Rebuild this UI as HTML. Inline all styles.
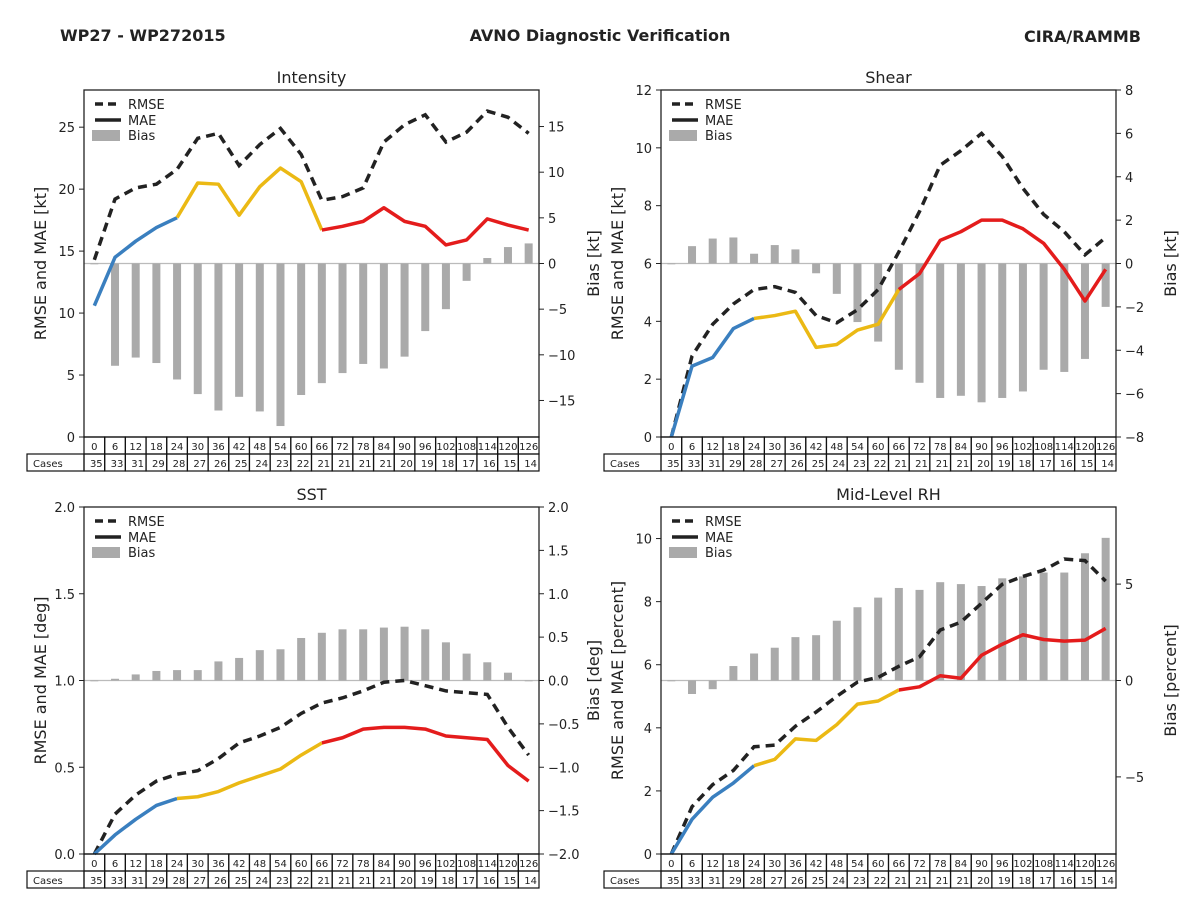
<!DOCTYPE html>
<html><head><meta charset="utf-8"><style>
body{margin:0;background:#fff;width:1200px;height:900px;overflow:hidden;font-family:"DejaVu Sans","Liberation Sans",sans-serif;}
svg text{font-family:"DejaVu Sans","Liberation Sans",sans-serif;}
</style></head><body>
<svg id="chart" width="1200" height="900" xmlns="http://www.w3.org/2000/svg">
<text x="60" y="41" font-size="16" font-weight="bold" fill="#222">WP27 - WP272015</text>
<text x="600" y="41" font-size="16" font-weight="bold" fill="#222" text-anchor="middle">AVNO Diagnostic Verification</text>
<text x="1141" y="42" font-size="16" font-weight="bold" fill="#222" text-anchor="end">CIRA/RAMMB</text>
</svg>
<script>
const hours=[0,6,12,18,24,30,36,42,48,54,60,66,72,78,84,90,96,102,108,114,120,126];
const cases=[35,33,31,29,28,27,26,25,24,23,22,21,21,21,21,20,19,18,17,16,15,14];
const intRmse=[14.3,19.2,20.1,20.4,21.6,24.1,24.5,21.9,23.6,24.9,22.8,19.1,19.4,20.1,23.8,25.2,26.0,23.8,24.6,26.3,25.8,24.5];
const intMae=[10.6,14.5,15.8,16.9,17.7,20.5,20.4,17.9,20.2,21.7,20.6,16.7,17.0,17.4,18.5,17.4,17.0,15.5,15.9,17.6,17.1,16.7];
const intBias=[0,-11.2,-10.3,-10.9,-12.7,-14.3,-16.1,-14.6,-16.2,-17.8,-14.4,-13.1,-12.0,-11.0,-11.5,-10.2,-7.4,-5.0,-1.9,0.6,1.8,2.2];
const shrRmse=[0,2.8,3.9,4.6,5.1,5.2,5.0,4.2,3.95,4.4,5.1,6.4,7.8,9.4,9.9,10.5,9.7,8.6,7.7,7.1,6.3,6.9];
const shrMae=[0,2.45,2.75,3.75,4.1,4.2,4.35,3.1,3.2,3.7,3.9,5.1,5.65,6.8,7.1,7.5,7.5,7.2,6.7,5.8,4.7,5.8];
const shrBias=[0,0.8,1.15,1.2,0.45,0.85,0.65,-0.45,-1.4,-2.7,-3.6,-4.9,-5.5,-6.2,-6.1,-6.4,-6.2,-5.9,-4.9,-5.0,-4.4,-2.0];
const sstRmse=[0,0.23,0.34,0.42,0.46,0.48,0.55,0.64,0.68,0.73,0.81,0.87,0.90,0.94,0.99,1.0,0.97,0.94,0.93,0.92,0.73,0.57];
const sstMae=[0,0.11,0.2,0.28,0.32,0.33,0.36,0.41,0.45,0.49,0.57,0.64,0.67,0.72,0.73,0.73,0.72,0.68,0.67,0.66,0.51,0.42];
const sstBias=[0,0.02,0.07,0.11,0.12,0.12,0.22,0.26,0.35,0.36,0.49,0.55,0.59,0.59,0.61,0.62,0.59,0.44,0.31,0.21,0.09,0.0];
const rhRmse=[0,1.5,2.2,2.65,3.4,3.45,4.05,4.5,5.0,5.45,5.6,5.95,6.25,7.1,7.35,7.95,8.55,8.8,9.0,9.35,9.3,8.65];
const rhMae=[0,1.1,1.8,2.25,2.8,3.0,3.65,3.6,4.1,4.75,4.85,5.2,5.3,5.65,5.57,6.3,6.65,6.95,6.8,6.75,6.78,7.15];
const rhBias=[0,-0.7,-0.45,0.75,1.4,1.7,2.25,2.35,3.1,3.8,4.3,4.8,4.7,5.1,5.0,4.9,5.3,5.4,5.6,5.6,6.6,7.4];
const intLeftTicks=[0,5,10,15,20,25], intRightTicks=[-15,-10,-5,0,5,10,15];
const shrLeftTicks=[0,2,4,6,8,10,12], shrRightTicks=[-8,-6,-4,-2,0,2,4,6,8];
const sstLeftTicks=[0,0.5,1,1.5,2], sstRightTicks=[-2,-1.5,-1,-0.5,0,0.5,1,1.5,2];
const rhLeftTicks=[0,2,4,6,8,10], rhRightTicks=[-5,0,5];

const NS="http://www.w3.org/2000/svg";
const svg=document.getElementById('chart');
function mk(tag,attrs,parent,txt){const e=document.createElementNS(NS,tag);for(const k in attrs)e.setAttribute(k,attrs[k]);if(txt!==undefined)e.textContent=txt;(parent||svg).appendChild(e);return e;}

function panel(o){
  const g=mk('g',{});
  
  
  const L=o.x0,R=o.x0+455,T=o.y0,B=o.y0+347;
  const cw=(R-L)/hours.length;
  const xs=i=>L+(i+0.5)*cw;
  const yl=v=>B-(v-o.lmin)/(o.lmax-o.lmin)*(B-T);
  const yr=v=>B-(v-o.rmin)/(o.rmax-o.rmin)*(B-T);
  // zero line
  const z=mk('line',{x1:L,x2:R,y1:yr(0),y2:yr(0),stroke:'#bbb','stroke-width':1.2},g);
  
  
  // bars
  o.bias.forEach((v,i)=>{
    const y0=yr(0),y1=yr(v);
    const b=mk('rect',{x:xs(i)-4,y:Math.min(y0,y1),width:8,height:Math.max(Math.abs(y1-y0),0.8),fill:'#aaaaaa'},g);
    
    
  });
  // rmse
  const rp=o.rmse.map((v,i)=>xs(i)+','+yl(v)).join(' ');
  const rl=mk('polyline',{points:rp,fill:'none',stroke:'#222','stroke-width':3.5,'stroke-dasharray':'9,6'},g);
  
  
  // mae segments
  const segs=[[0,4,'#3a7fbf'],[4,11,'#ebb914'],[11,21,'#e41c1c']];
  segs.forEach(s=>{
    const pts=[];for(let i=s[0];i<=s[1];i++)pts.push(xs(i)+','+yl(o.mae[i]));
    const m=mk('polyline',{points:pts.join(' '),fill:'none',stroke:s[2],'stroke-width':3.5,'stroke-linejoin':'round'},g);
    
    
  });
  // frame
  const f=mk('rect',{x:L,y:T,width:R-L,height:B-T,fill:'none',stroke:'#222','stroke-width':1.3},g);
  
  
  o.lt.forEach(v=>{
    mk('line',{x1:L-5,x2:L,y1:yl(v),y2:yl(v),stroke:'#222'},g);
    const t=mk('text',{x:L-9,y:yl(v)+5,'font-size':13,'text-anchor':'end',fill:'#222'},g,o.lfmt(v));
    
    
  });
  o.rt.forEach(v=>{
    mk('line',{x1:R,x2:R+5,y1:yr(v),y2:yr(v),stroke:'#222'},g);
    const t=mk('text',{x:R+9,y:yr(v)+5,'font-size':13,fill:'#222'},g,o.rfmt(v).replace('-','\u2212'));
    
    
  });
  const ti=mk('text',{x:(L+R)/2,y:T-7,'font-size':16,'text-anchor':'middle',fill:'#222'},g,o.title);
  
  
  const ly=mk('text',{x:0,y:0,'font-size':16,'text-anchor':'middle',fill:'#222',transform:`translate(${L-38},${(T+B)/2}) rotate(-90)`},g,o.ylab);
  
  
  const ry=mk('text',{x:0,y:0,'font-size':16,'text-anchor':'middle',fill:'#222',transform:`translate(${R+60},${(T+B)/2}) rotate(-90)`},g,o.rlab);
  
  
  // legend
  const lg=mk('g',{},g);
  
  
  mk('line',{x1:L+11,x2:L+37,y1:T+14,y2:T+14,stroke:'#222','stroke-width':3.5,'stroke-dasharray':'8,5'},lg);
  mk('line',{x1:L+11,x2:L+37,y1:T+30,y2:T+30,stroke:'#222','stroke-width':3.5},lg);
  mk('rect',{x:L+8,y:T+40,width:28,height:11,fill:'#aaa'},lg);
  [['RMSE',19],['MAE',35],['Bias',50]].forEach(a=>mk('text',{x:L+44,y:T+a[1],'font-size':13,fill:'#222'},lg,a[0]));
  // table
  const tb=mk('g',{},g);
  
  
  const c=mk('rect',{x:L-57,y:B+17,width:57,height:17,fill:'none',stroke:'#111','stroke-width':1.2},tb);
  mk('text',{x:L-51,y:B+30,'font-size':10,fill:'#222'},tb,'Cases');
  hours.forEach((h,i)=>{
    const x=L+i*cw;
    mk('rect',{x:x,y:B,width:cw,height:17,fill:'none',stroke:'#111','stroke-width':1.2},tb);
    mk('rect',{x:x,y:B+17,width:cw,height:17,fill:'none',stroke:'#111','stroke-width':1.2},tb);
    mk('text',{x:x+cw/2,y:B+13,'font-size':10,'text-anchor':'middle',fill:'#222'},tb,String(h));
    mk('text',{x:x+cw-2,y:B+30,'font-size':10,'text-anchor':'end',fill:'#222'},tb,String(cases[i]));
  });
}
const i0=v=>String(v), f1=v=>v.toFixed(1);
panel({name:'intensity',title:'Intensity',x0:84,y0:90,lmin:0,lmax:28,rmin:-19,rmax:19,rmse:intRmse,mae:intMae,bias:intBias,lt:intLeftTicks,rt:intRightTicks,lfmt:i0,rfmt:i0,ylab:'RMSE and MAE [kt]',rlab:'Bias [kt]'});
panel({name:'shear',title:'Shear',x0:661,y0:90,lmin:0,lmax:12,rmin:-8,rmax:8,rmse:shrRmse,mae:shrMae,bias:shrBias,lt:shrLeftTicks,rt:shrRightTicks,lfmt:i0,rfmt:i0,ylab:'RMSE and MAE [kt]',rlab:'Bias [kt]'});
panel({name:'sst',title:'SST',x0:84,y0:507,lmin:0,lmax:2,rmin:-2,rmax:2,rmse:sstRmse,mae:sstMae,bias:sstBias,lt:sstLeftTicks,rt:sstRightTicks,lfmt:f1,rfmt:f1,ylab:'RMSE and MAE [deg]',rlab:'Bias [deg]'});
panel({name:'rh',title:'Mid-Level RH',x0:661,y0:507,lmin:0,lmax:11,rmin:-9,rmax:9,rmse:rhRmse,mae:rhMae,bias:rhBias,lt:rhLeftTicks,rt:rhRightTicks,lfmt:i0,rfmt:i0,ylab:'RMSE and MAE [percent]',rlab:'Bias [percent]'});
</script>
</body></html>
